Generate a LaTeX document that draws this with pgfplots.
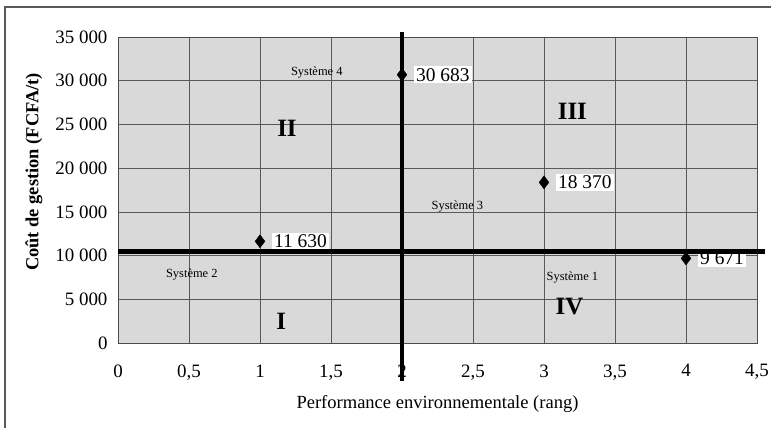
\documentclass[border=0pt]{standalone}
\usepackage{fontspec}
\setmainfont{Liberation Serif}
\usepackage{pgfplots}
\pgfplotsset{compat=1.18}
\usepackage{pgfplotstable}

\pgfplotstableread[col sep=comma]{
x,y,label
1,11630,11 630
2,30683,30 683
3,18370,18 370
4,9671,9 671
}\points

\begin{document}
\begin{tikzpicture}
\draw[black!65, line width=1.5bp] (-113bp,-95bp) -- (-113bp,336bp) -- (660bp,336bp);
\begin{axis}[
  at={(0,0)}, anchor=south west,
  scale only axis, width=639bp, height=306bp,
  xmin=0, xmax=4.5, ymin=0, ymax=35000,
  xtick={0,0.5,1,1.5,2,2.5,3,3.5,4,4.5},
  xticklabels={0,{0,5},1,{1,5},2,{2,5},3,{3,5},4,{4,5}},
  ytick={0,5000,10000,15000,20000,25000,30000,35000},
  yticklabels={0,5 000,10 000,15 000,20 000,25 000,30 000,35 000},
  major tick length=0,
  grid=major, grid style={black!65, line width=0.6bp},
  axis line style={black!70, line width=0.8bp},
  axis background/.style={fill=black!15},
  ticklabel style={font=\fontsize{19}{22}\selectfont},
  xticklabel style={yshift=-18bp},
  yticklabel style={xshift=-7bp},
  clip=false, set layers,
  scaled y ticks=false,
  xlabel={Performance environnementale (rang)},
  ylabel={\bfseries Coût de gestion (FCFA/t)},
  every axis x label/.style={at={(rel axis cs:0.5,0)}, anchor=center, yshift=-61bp, font=\fontsize{18.6}{22}\selectfont},
  every axis y label/.style={at={(rel axis cs:0,0.559)}, rotate=90, anchor=center, yshift=84bp, font=\fontsize{18.5}{22}\selectfont},
]
\addplot[only marks, mark=diamond*, mark size=6.5bp, black,
  nodes near coords, point meta=explicit symbolic,
  nodes near coords style={anchor=west, xshift=12bp, fill=white, inner sep=2bp, text=black, font=\fontsize{19.5}{22}\selectfont}]
  table[x=x, y=y, meta=label]{\points};
\addplot[black, line width=4.5bp, on layer=axis foreground] coordinates {(2,35600) (2,-4300)};
\addplot[black, line width=4.5bp, on layer=axis foreground] coordinates {(0,10450) (4.555,10450)};
\node[font=\fontsize{12.5}{14}\selectfont] at (axis cs:1.40,30930) {Système 4};
\node[font=\fontsize{12.5}{14}\selectfont] at (axis cs:2.39,15560) {Système 3};
\node[font=\fontsize{12.5}{14}\selectfont] at (axis cs:0.52,7780) {Système 2};
\node[font=\fontsize{12.5}{14}\selectfont] at (axis cs:3.20,7440) {Système 1};
\node[font=\fontsize{25}{28}\selectfont\bfseries] at (axis cs:1.19,24540) {II};
\node[font=\fontsize{25}{28}\selectfont\bfseries] at (axis cs:3.20,26490) {III};
\node[font=\fontsize{25}{28}\selectfont\bfseries] at (axis cs:1.15,2520) {I};
\node[font=\fontsize{25}{28}\selectfont\bfseries] at (axis cs:3.18,4180) {IV};
\end{axis}
\pgfresetboundingbox
\useasboundingbox (-118bp,-85bp) rectangle (653bp,343bp);
\end{tikzpicture}
\end{document}
